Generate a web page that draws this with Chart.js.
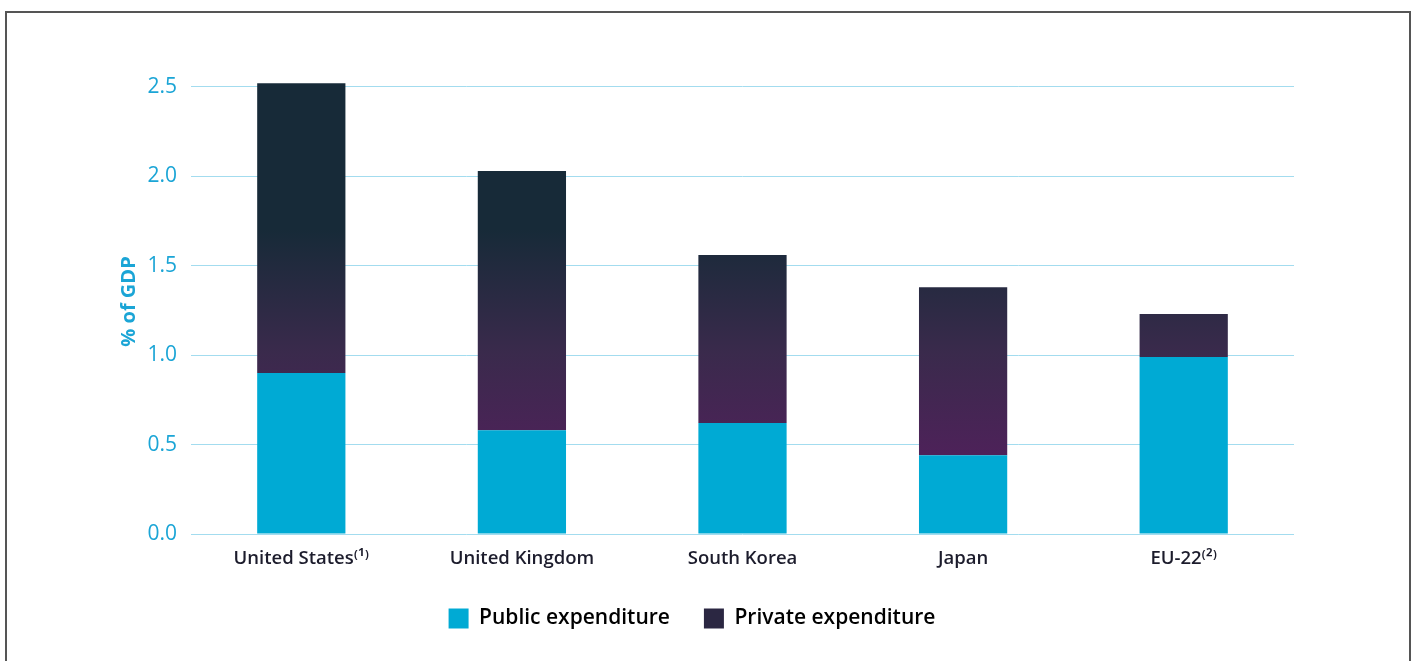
<!DOCTYPE html>
<html lang="en">
<head>
  <meta charset="UTF-8">
  <title>R&amp;D expenditure by sector</title>
  <script src="https://cdn.jsdelivr.net/npm/chart.js"></script>
  <style>
    html, body { margin: 0; padding: 0; background: #fff; }
    body { width: 1415px; height: 661px; position: relative; overflow: hidden; }
    .frame { position: absolute; left: 5px; top: 11px; width: 1406px; height: 700px; border: 2px solid #555; box-sizing: border-box; }
    .wrap { position: absolute; left: 0; top: 0; width: 1415px; height: 661px; }
  </style>
</head>
<body>
  <div class="frame"></div>
  <div class="wrap"><canvas id="rdChart"></canvas></div>

  <script>
// data
const countries = ["United States⁽¹⁾", "United Kingdom", "South Korea", "Japan", "EU-22⁽²⁾"];
const publicExp = [0.90, 0.58, 0.62, 0.44, 0.99];
const privateExp = [1.62, 1.45, 0.94, 0.94, 0.24];
const yTicks = [0, 0.5, 1.0, 1.5, 2.0, 2.5];

const cyan = "#00aad4";
const tickCyan = "#1ba5d6";
const dark = "#1c1c2c";

// private bars fade from purple (low) to dark navy (high)
function privateFill(context) {
  const chart = context.chart;
  const { chartArea, scales } = chart;
  if (!chartArea) return "#2b2742";
  const y = scales.y;
  const g = chart.ctx.createLinearGradient(0, y.getPixelForValue(0.45), 0, y.getPixelForValue(1.7));
  g.addColorStop(0, "#4d2259");
  g.addColorStop(0.45, "#3a2a4c");
  g.addColorStop(1, "#172a38");
  return g;
}

const ctx = document.getElementById("rdChart").getContext("2d");
new Chart(ctx, {
  type: "bar",
  data: {
    labels: countries,
    datasets: [
      { label: "Public expenditure", data: publicExp, backgroundColor: cyan },
      { label: "Private expenditure", data: privateExp, backgroundColor: privateFill }
    ]
  },
  options: {
    responsive: true,
    maintainAspectRatio: false,
    animation: false,
    layout: { padding: { left: 90, right: 121, top: 69, bottom: 22 } },
    datasets: { bar: { barPercentage: 0.4, categoryPercentage: 1.0 } },
    plugins: {
      tooltip: { enabled: false },
      legend: {
        position: "bottom",
        labels: {
          boxWidth: 20,
          boxHeight: 20,
          padding: 34,
          color: dark,
          font: { family: "'Open Sans', sans-serif", size: 21, weight: "600" },
          generateLabels: chart => chart.data.datasets.map((ds, i) => ({
            text: ds.label,
            fillStyle: i === 0 ? cyan : "#2b2742",
            strokeStyle: "transparent",
            lineWidth: 0,
            datasetIndex: i
          }))
        }
      }
    },
    scales: {
      x: {
        stacked: true,
        grid: { display: false },
        border: { display: false },
        ticks: {
          color: dark,
          padding: 6,
          maxRotation: 0,
          autoSkip: false,
          font: { family: "'Open Sans', sans-serif", size: 18.5, weight: "600" }
        },
        afterFit: axis => { axis.height = 40; }
      },
      y: {
        stacked: true,
        min: 0,
        max: 2.6,
        afterBuildTicks: axis => {
          axis.ticks = yTicks.map(v => ({ value: v }));
        },
        ticks: {
          color: tickCyan,
          padding: 14,
          font: { family: "'Open Sans', sans-serif", size: 21 },
          callback: v => Number(v).toFixed(1)
        },
        grid: { color: "#a3dcef", lineWidth: 1, drawTicks: false },
        border: { display: false },
        title: {
          display: true,
          text: "% of GDP",
          color: tickCyan,
          padding: { top: 27, bottom: 0 },
          font: { family: "'Open Sans', sans-serif", size: 20, weight: "bold" }
        },
        afterFit: axis => { axis.width = 101; }
      }
    }
  }
});
  </script>
</body>
</html>
